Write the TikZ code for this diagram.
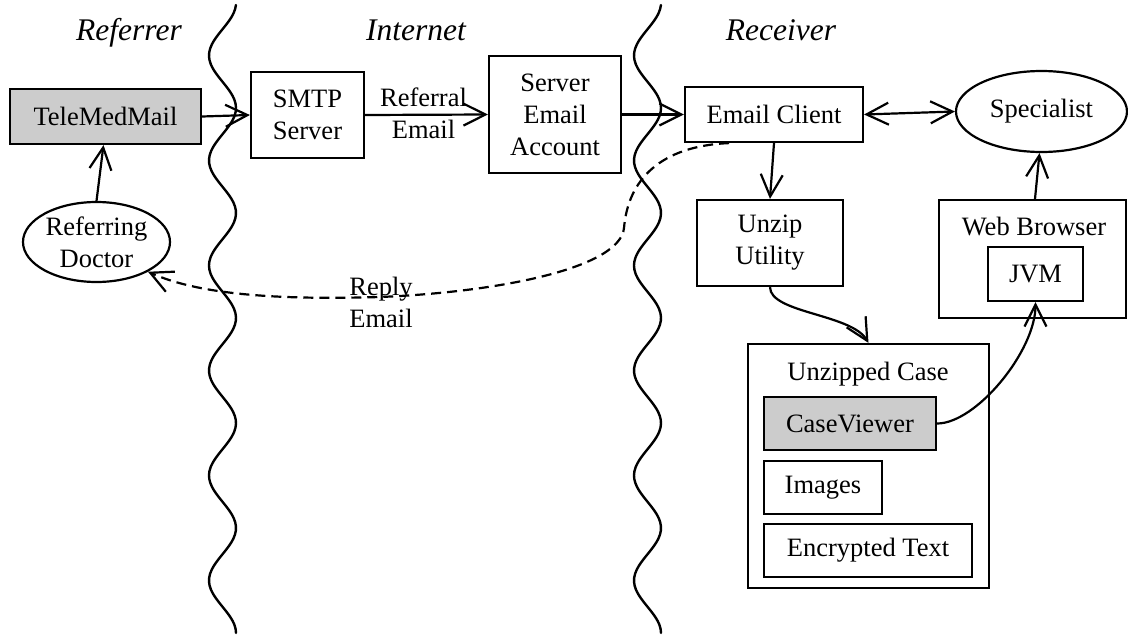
\documentclass[tikz,border=0pt]{standalone}
\usepackage{fontspec}
\setmainfont{Liberation Serif}
\usetikzlibrary{arrows.meta,shapes.geometric}
\definecolor{boxshade}{gray}{0.80}
\tikzset{
  base/.style={font=\fontsize{26.5}{32}\selectfont, align=center, inner sep=0pt},
  box/.style={base, draw, line width=2.2pt, rectangle},
  shadedbox/.style={box, fill=boxshade},
  oval/.style={base, draw, line width=2.2pt, ellipse},
  heading/.style={font=\fontsize{31.5}{36}\selectfont\itshape, inner sep=0pt, anchor=base},
  lbl/.style={base},
  barb/.tip={Straight Barb[length=22pt,width=22pt,line width=2.2pt]},
  flow/.style={line width=2.2pt, -barb},
  twoway/.style={line width=2.2pt, barb-barb},
  reply/.style={flow, dash pattern=on 10pt off 6pt},
  wave/.style={line width=2.4pt, line cap=round}
}
\begin{document}
\begin{tikzpicture}[x=1pt,y=-1pt]
\useasboundingbox (0,0) rectangle (1128,635);

% zone boundaries (one wavelength = 105pt, i.e. 3.428571 degrees per pt)
\draw[wave] plot[domain=5:633, samples=160, smooth] ({222.5+13.5*cos(3.428571*(\x-3))}, \x);
\draw[wave] plot[domain=5:633, samples=160, smooth] ({647.5+13.5*cos(3.428571*(\x-3))}, \x);

% zone headings
\node[heading] (hRef) at (129,40) {Referrer};
\node[heading] (hNet) at (416,40) {Internet};
\node[heading] (hRec) at (781,40) {Receiver};

% referrer side
\node[shadedbox, minimum width=191pt, minimum height=55pt] (tele) at (105.5,116.5) {TeleMedMail};
\node[oval, minimum width=147pt, minimum height=80pt] (doc) at (96.5,242) {Referring\\Doctor};

% internet
\node[box, minimum width=113pt, minimum height=86pt] (smtp) at (307.5,115) {SMTP\\Server};
\node[box, minimum width=132pt, minimum height=117pt] (sea) at (555,114.5) {Server\\Email\\Account};
\node[lbl] (refmail) at (423.5,113.5) {Referral\\Email};

% receiver
\node[box, minimum width=178pt, minimum height=55pt] (ec) at (774,114.5) {Email Client};
\node[oval, minimum width=171pt, minimum height=81pt] (spec) at (1041.5,111.5) {Specialist};
\node[box, minimum width=146pt, minimum height=86pt] (unzip) at (770,243) {Unzip\\Utility};

\node[box, minimum width=187pt, minimum height=118pt] (web) at (1032.5,259) {};
\node[lbl, anchor=base] (webl) at (1034,235) {Web Browser};
\node[box, minimum width=95pt, minimum height=54pt] (jvm) at (1035.5,274) {JVM};

\node[box, minimum width=241pt, minimum height=244pt] (uc) at (868.5,466) {};
\node[lbl, anchor=base] (ucl) at (868,380) {Unzipped Case};
\node[shadedbox, minimum width=172pt, minimum height=53pt] (cv) at (850,423.5) {CaseViewer};
\node[box, minimum width=118pt, minimum height=53pt] (img) at (823,487.5) {Images};
\node[box, minimum width=208pt, minimum height=53pt] (enc) at (868,550.5) {Encrypted Text};

\node[lbl] (replyl) at (381,302.5) {Reply\\Email};

% connectors
\draw[flow] (doc.north) -- ([xshift=-2pt]tele.south);
\draw[flow] (tele.east) -- (smtp.west);
\draw[flow] (smtp.east) -- (sea.west);
\draw[flow] (sea.east) -- (ec.west);
\draw[twoway] (ec.east) -- (spec.west);
\draw[flow] (ec.south) -- (unzip.north);
\draw[flow] ([xshift=2.5pt]web.north) -- ([xshift=-2pt]spec.south);
\draw[flow] (unzip.south) .. controls +(0,26) and +(-17,-29) .. (uc.north);
\draw[flow] (cv.east) .. controls +(39,0) and +(0,49) .. (jvm.south);

\coordinate (rs) at ([xshift=-45pt]ec.south);
\coordinate (rm) at (624,228);
\coordinate (rl) at (380,297);
\draw[reply] (rs) .. controls (660,146) and (628,180) .. (rm)
  .. controls (620,268) and (500,292) .. (rl)
  .. controls (280,300) and (200,295) .. (doc.-30);
\end{tikzpicture}
\end{document}
